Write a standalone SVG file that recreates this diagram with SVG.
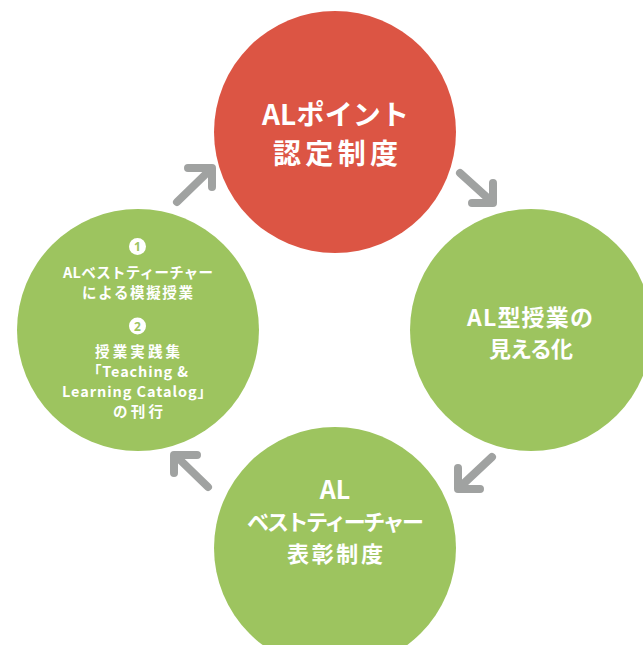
<svg xmlns="http://www.w3.org/2000/svg" width="643" height="645" viewBox="0 0 643 645">
<defs>
<style>
.red{fill:#DC5544}
.green{fill:#9DC45F}
.t{fill:#FFFFFF;font-family:"Noto Sans CJK JP","Noto Sans",sans-serif;font-weight:bold;text-anchor:middle}
.big{font-size:28px}
.mid{font-size:22px}
.sm{font-size:14.5px}
.num{fill:#9DC45F;font-family:"Noto Sans","DejaVu Sans",sans-serif;font-weight:bold;font-size:12px;text-anchor:middle}
.arrow{fill:none;stroke:#A0A2A1;stroke-width:8;stroke-linecap:round;stroke-linejoin:round}
</style>
</defs>
<rect width="643" height="645" fill="#FFFFFF"/>
<g id="connectors">
<path class="arrow" d="M177 202 L211 169 M188 168 L212 168 L212 187"/>
<path class="arrow" d="M460 173 L491 201 M472 203 L493 203 L493 183"/>
<path class="arrow" d="M492 457 L460 487 M458 468 L458 489 L480 489"/>
<path class="arrow" d="M208 487 L176 456 M197 455 L174 455 L174 473"/>
</g>
<g id="node-al-point">
<circle class="red" cx="335" cy="132" r="121"/>
<text class="t big" x="335.5" y="125" textLength="147" lengthAdjust="spacing">ALポイント</text>
<text class="t big" x="335.5" y="164" textLength="125" lengthAdjust="spacing">認定制度</text>
</g>
<g id="node-visualization">
<circle class="green" cx="531" cy="330" r="121"/>
<text class="t mid" x="530" y="326" style="font-size:23px" textLength="126" lengthAdjust="spacing">AL型授業の</text>
<text class="t mid" x="531" y="357" textLength="84" lengthAdjust="spacing">見える化</text>
</g>
<g id="node-best-teacher-award">
<circle class="green" cx="335" cy="548" r="121"/>
<text class="t mid" x="335" y="499" style="font-size:25px">AL</text>
<text class="t mid" x="335.5" y="530" textLength="177" lengthAdjust="spacing">ベストティーチャー</text>
<text class="t mid" x="335" y="562" textLength="96" lengthAdjust="spacing">表彰制度</text>
</g>
<g id="node-activities">
<circle class="green" cx="138" cy="330" r="121"/>
<circle cx="137.5" cy="246.5" r="8.5" fill="#FFFFFF"/>
<text class="num" x="137.5" y="251">1</text>
<text class="t sm" x="138" y="278" textLength="150" lengthAdjust="spacing">ALベストティーチャー</text>
<text class="t sm" x="137.5" y="298" textLength="111" lengthAdjust="spacing">による模擬授業</text>
<circle cx="137.5" cy="326" r="8.5" fill="#FFFFFF"/>
<text class="num" x="137.5" y="330.5">2</text>
<text class="t sm" x="137.5" y="357" textLength="85" lengthAdjust="spacing">授業実践集</text>
<text class="t sm" x="137.5" y="377" textLength="101" lengthAdjust="spacing">「Teaching &amp;</text>
<text class="t sm" x="137" y="397" textLength="150" lengthAdjust="spacing">Learning Catalog」</text>
<text class="t sm" x="138" y="417" textLength="50" lengthAdjust="spacing">の刊行</text>
</g>
</svg>
